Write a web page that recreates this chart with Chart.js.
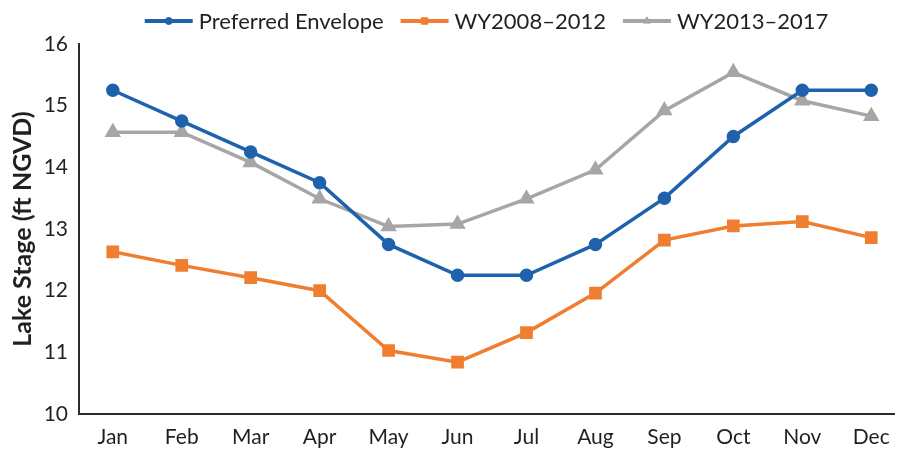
<!DOCTYPE html>
<html>
<head>
<meta charset="utf-8">
<script src="https://cdn.jsdelivr.net/npm/chart.js@4"></script>
<style>
  html, body { margin: 0; padding: 0; background: #fff; }
  #wrap { width: 904px; height: 451px; }
</style>
</head>
<body>
<div id="wrap"><canvas id="c" width="904" height="451"></canvas></div>
<script>
// Monthly lake stage (ft NGVD)
const months = ['Jan','Feb','Mar','Apr','May','Jun','Jul','Aug','Sep','Oct','Nov','Dec'];
const preferredEnvelope = [15.25, 14.75, 14.25, 13.75, 12.75, 12.25, 12.25, 12.75, 13.5, 14.5, 15.25, 15.25];
const wy2008_2012 = [12.63, 12.41, 12.21, 12.0, 11.03, 10.84, 11.32, 11.96, 12.82, 13.05, 13.12, 12.86];
const wy2013_2017 = [14.57, 14.57, 14.08, 13.49, 13.04, 13.08, 13.49, 13.96, 14.92, 15.54, 15.08, 14.83];
const yTicks = [10, 11, 12, 13, 14, 15, 16];

const FONT = 'Lato, "Open Sans", sans-serif';
const TEXT = '#231f20';

const toPoints = arr => arr.map((v, i) => ({ x: i, y: v }));

// Top legend: a line sample with its marker, then the series name
const lineLegend = {
  id: 'lineLegend',
  afterDraw(chart) {
    const ctx = chart.ctx;
    const area = chart.chartArea;
    const sample = 48, gap = 6, spacing = 17;
    ctx.save();
    ctx.font = '22px ' + FONT;
    const items = chart.data.datasets.map(ds => ({ ds, w: ctx.measureText(ds.label).width }));
    const total = items.reduce((s, it) => s + sample + gap + it.w, 0) + spacing * (items.length - 1);
    let x = (area.left + area.right) / 2 - total / 2;
    const y = 21;
    items.forEach(({ ds, w }) => {
      ctx.strokeStyle = ds.borderColor;
      ctx.lineWidth = 4;
      ctx.beginPath();
      ctx.moveTo(x, y);
      ctx.lineTo(x + sample, y);
      ctx.stroke();
      ctx.fillStyle = ds.pointBackgroundColor;
      ctx.strokeStyle = ds.pointBorderColor;
      ctx.lineWidth = 1;
      Chart.helpers.drawPoint(ctx, {
        pointStyle: ds.pointStyle,
        radius: ds.pointRadius * 0.7,
        rotation: 0,
        borderWidth: 1
      }, x + sample / 2, y);
      ctx.fillStyle = TEXT;
      ctx.textBaseline = 'middle';
      ctx.textAlign = 'left';
      ctx.fillText(ds.label, x + sample + gap, y + 1);
      x += sample + gap + w + spacing;
    });
    ctx.restore();
  }
};

const blue = '#1e62ad', orange = '#ef7e30', gray = '#a6a6a6';

new Chart(document.getElementById('c'), {
  type: 'line',
  data: {
    datasets: [
      {
        label: 'Preferred Envelope',
        data: toPoints(preferredEnvelope),
        borderColor: blue, backgroundColor: blue,
        pointBackgroundColor: blue, pointBorderColor: blue,
        borderWidth: 3.5, pointStyle: 'circle', pointRadius: 5, pointHoverRadius: 5,
        tension: 0
      },
      {
        label: 'WY2008\u20132012',
        data: toPoints(wy2008_2012),
        borderColor: orange, backgroundColor: orange,
        pointBackgroundColor: orange, pointBorderColor: orange,
        borderWidth: 3.5, pointStyle: 'rect', pointRadius: 6.5, pointHoverRadius: 6.5,
        tension: 0
      },
      {
        label: 'WY2013\u20132017',
        data: toPoints(wy2013_2017),
        borderColor: gray, backgroundColor: gray,
        pointBackgroundColor: gray, pointBorderColor: gray,
        borderWidth: 3.5, pointStyle: 'triangle', pointRadius: 6, pointHoverRadius: 6,
        tension: 0
      }
    ]
  },
  options: {
    responsive: false,
    animation: false,
    layout: { padding: { top: 44, right: 2, left: 0, bottom: 0 } },
    plugins: {
      legend: { display: false },
      tooltip: { enabled: false }
    },
    scales: {
      x: {
        type: 'linear',
        min: -0.49,
        max: 11.33,
        grid: { display: false, drawTicks: false, tickLength: 0 },
        border: { display: true, color: '#2b2b2b', width: 2 },
        afterBuildTicks: s => { s.ticks = months.map((m, i) => ({ value: i })); },
        afterFit: s => { s.height = 37; },
        ticks: {
          autoSkip: false,
          maxRotation: 0,
          padding: 11,
          color: TEXT,
          font: { family: FONT, size: 21 },
          callback: v => months[v]
        }
      },
      y: {
        min: 10,
        max: 16,
        grid: { display: false, drawTicks: false, tickLength: 0 },
        border: { display: true, color: '#2b2b2b', width: 2 },
        afterBuildTicks: s => { s.ticks = yTicks.map(v => ({ value: v })); },
        afterFit: s => { s.width = 79; },
        ticks: {
          padding: 11,
          color: TEXT,
          font: { family: FONT, size: 21 }
        },
        title: {
          display: true,
          text: 'Lake Stage (ft NGVD)',
          color: TEXT,
          font: { family: FONT, size: 25, weight: 'bold' },
          padding: { top: 8, bottom: 4 }
        }
      }
    }
  },
  plugins: [lineLegend]
});
</script>
</body>
</html>
